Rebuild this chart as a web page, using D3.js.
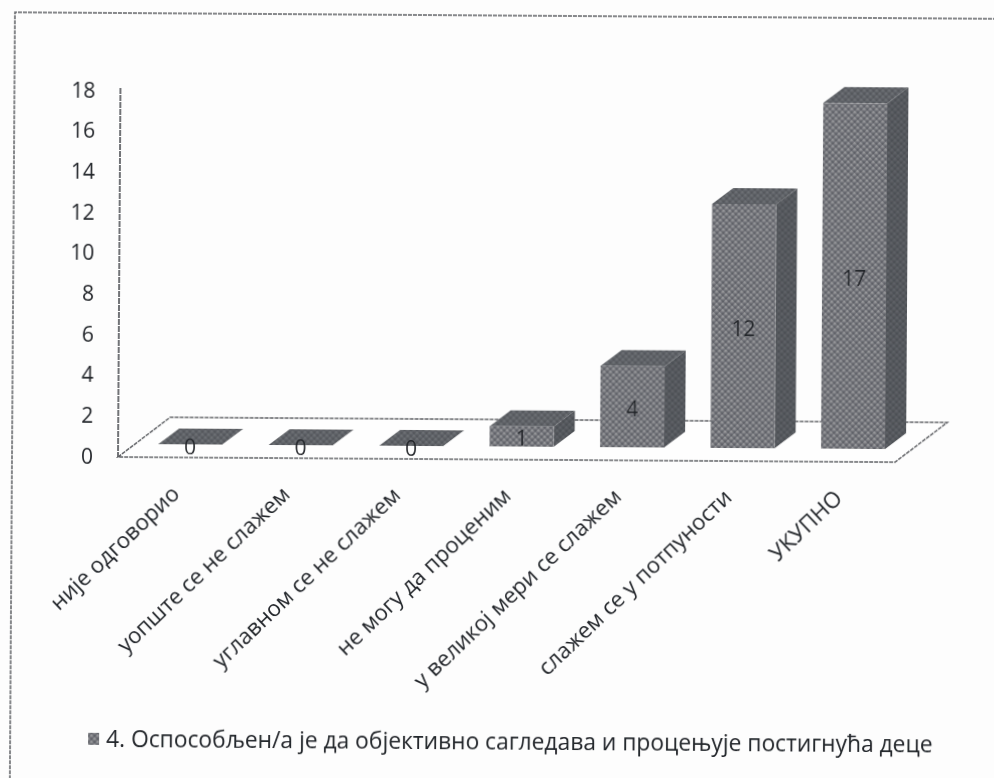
<!DOCTYPE html>
<html>
<head>
<meta charset="utf-8">
<script src="https://cdn.jsdelivr.net/npm/d3@7"></script>
<style>
  html, body { margin: 0; padding: 0; background: #fdfdfd; }
  svg { display: block; }
  text { font-family: "Open Sans", "Noto Sans", sans-serif; fill: #24262b; }
</style>
</head>
<body>
<div id="chart"></div>
<script>
const categories = [
  "није одговорио",
  "уопште се не слажем",
  "углавном се не слажем",
  "не могу да проценим",
  "у великој мери се слажем",
  "слажем се у потпуности",
  "УКУПНО"
]
const values = [0, 0, 0, 1, 4, 12, 17]
const yTicks = [0, 2, 4, 6, 8, 10, 12, 14, 16, 18]
const legendLabel = "4. Оспособљен/а је да објективно сагледава и процењује постигнућа деце"

const width = 994
const height = 778

// the scan sits a little crooked, everything hangs off this pivot
const tilt = 0.38
const pivotX = 118
const pivotY = 457

const depthX = 21
const depthY = -16
const barBaseShift = -12.5

const svg = d3.select("#chart")
  .append("svg")
  .attr("width", width)
  .attr("height", height)

const defs = svg.append("defs")

defs.append("filter")
  .attr("id", "soft")
  .attr("x", "-2%").attr("y", "-2%").attr("width", "104%").attr("height", "104%")
  .append("feGaussianBlur")
  .attr("stdDeviation", 0.7)

const addDither = (id, base, light, dark) => {
  const p = defs.append("pattern")
    .attr("id", id)
    .attr("patternUnits", "userSpaceOnUse")
    .attr("width", 4.4)
    .attr("height", 4.4)
    .attr("patternTransform", "rotate(45)")
  p.append("rect").attr("width", 4.4).attr("height", 4.4).attr("fill", base)
  p.append("rect").attr("width", 2.2).attr("height", 2.2).attr("fill", light)
  p.append("rect").attr("x", 2.2).attr("y", 2.2).attr("width", 2.2).attr("height", 2.2).attr("fill", dark)
}
addDither("ditherFront", "#75767c", "#96979a", "#5f6167")
addDither("ditherSide", "#55585d", "#5f6267", "#4c4f54")
addDither("ditherTop", "#5f6267", "#6d7074", "#54575c")

const x = d3.scaleBand()
  .domain(categories)
  .range([158, 885])
  .paddingInner(0.42)
  .paddingOuter(0)

const y = d3.scaleLinear()
  .domain([0, 18])
  .range([456.5, 90.5])

const g = svg.append("g")
  .attr("filter", "url(#soft)")
  .attr("transform", `rotate(${tilt},${pivotX},${pivotY})`)

// page frame
g.append("path")
  .attr("d", "M12,800V13H1010")
  .attr("fill", "none")
  .attr("stroke", "#5f6165")
  .attr("stroke-width", 1.5)
  .attr("stroke-dasharray", "4 1")

// y axis
const yAxis = d3.axisLeft(y)
  .tickValues(yTicks)
  .tickSize(0)
  .tickPadding(0)

const axisG = g.append("g")
  .attr("transform", "translate(93,0)")
  .call(yAxis)
axisG.select(".domain").remove()
axisG.selectAll("text")
  .attr("font-size", 21)
  .style("text-anchor", "end")

// wall line and floor
g.append("path")
  .attr("d", `M${pivotX},88V${pivotY}`)
  .attr("fill", "none")
  .attr("stroke", "#505256")
  .attr("stroke-width", 1.6)
  .attr("stroke-dasharray", "6 1")

const floorBackY = pivotY - 40
const floorRight = x.range()[1] + 10
g.append("path")
  .attr("d", `M${pivotX},${pivotY}L${pivotX + 52},${floorBackY}H${floorRight + 52}L${floorRight},${pivotY}Z`)
  .attr("fill", "#fefefe")
  .attr("stroke", "#5f6165")
  .attr("stroke-width", 1.5)
  .attr("stroke-dasharray", "4 1")

// bars
const barBase = y(0) + barBaseShift
const barTop = v => y(v) + barBaseShift
const poly = pts => pts.map(p => p.join(",")).join(" ")

const bars = g.selectAll("g.bar")
  .data(categories.map((c, i) => ({ c, v: values[i] })))
  .join("g")
  .attr("class", "bar")

bars.append("polygon")
  .attr("fill", "url(#ditherSide)")
  .attr("points", d => {
    const r = x(d.c) + x.bandwidth()
    return poly([[r, barBase], [r + depthX, barBase + depthY], [r + depthX, barTop(d.v) + depthY], [r, barTop(d.v)]])
  })

bars.append("polygon")
  .attr("fill", "url(#ditherTop)")
  .attr("points", d => {
    const l = x(d.c)
    const r = l + x.bandwidth()
    const t = barTop(d.v)
    return poly([[l, t], [l + depthX, t + depthY], [r + depthX, t + depthY], [r, t]])
  })

bars.append("rect")
  .attr("x", d => x(d.c))
  .attr("y", d => barTop(d.v))
  .attr("width", x.bandwidth())
  .attr("height", d => barBase - barTop(d.v))
  .attr("fill", "url(#ditherFront)")

bars.append("text")
  .attr("x", d => x(d.c) + x.bandwidth() / 2)
  .attr("y", d => (barBase + barTop(d.v)) / 2 + 2)
  .attr("dy", "0.36em")
  .attr("text-anchor", "middle")
  .attr("font-size", 21)
  .text(d => d.v)

// category labels
g.selectAll("text.cat")
  .data(categories)
  .join("text")
  .attr("class", "cat")
  .attr("font-size", 22.2)
  .attr("text-anchor", "end")
  .attr("transform", d => `translate(${x(d) + x.bandwidth() / 2 - 9},${495}) rotate(-44)`)
  .text(d => d)

// legend
const legendX = 90
const legendY = 739
g.append("rect")
  .attr("x", legendX)
  .attr("y", legendY - 6)
  .attr("width", 11)
  .attr("height", 12)
  .attr("fill", "url(#ditherFront)")

g.append("text")
  .attr("x", legendX + 18)
  .attr("y", legendY)
  .attr("dy", "0.36em")
  .attr("font-size", 22.8)
  .text(legendLabel)
</script>
</body>
</html>
